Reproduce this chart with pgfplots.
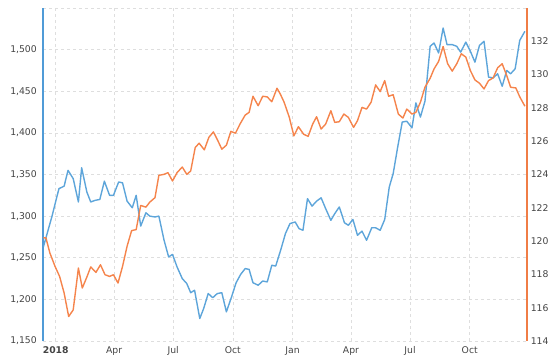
\documentclass[border=0pt]{standalone}
\usepackage{pgfplots}
\pgfplotsset{compat=1.18}
\usepackage{fontspec}
\setmainfont{DejaVu Sans}
\definecolor{goldblue}{RGB}{93,165,218}
\definecolor{axblue}{RGB}{80,155,215}
\definecolor{lineor}{RGB}{245,132,76}
\definecolor{axor}{RGB}{240,125,70}
\definecolor{txt}{RGB}{68,68,68}
\definecolor{gridc}{RGB}{222,222,222}

\pgfplotstableread{
x y
-19 1263
-15 1274
-6 1299
5 1333
13 1336
19 1355
27 1345
35 1317
40 1358
48 1329
54 1317
61 1319
68 1320
75 1342
83 1325
89 1325
97 1341
103 1340
110 1318
118 1310
124 1325
131 1288
139 1304
145 1300
153 1299
159 1300
167 1271
174 1251
180 1254
187 1239
195 1225
202 1219
208 1208
214 1211
222 1177
228 1189
235 1207
242 1202
249 1207
256 1208
263 1185
271 1203
278 1220
285 1230
292 1237
298 1236
304 1220
312 1217
319 1222
326 1221
333 1241
339 1240
347 1260
354 1279
361 1291
369 1293
375 1285
381 1283
388 1321
395 1312
402 1318
409 1322
416 1309
424 1295
430 1303
437 1311
445 1292
451 1289
458 1296
465 1277
472 1282
479 1271
487 1286
493 1286
500 1283
507 1296
514 1335
520 1351
527 1383
534 1413
541 1414
549 1406
555 1436
562 1419
569 1438
577 1504
583 1508
590 1496
597 1526
603 1506
611 1506
618 1504
624 1497
632 1509
639 1498
646 1485
653 1505
660 1510
667 1467
674 1466
681 1471
688 1456
695 1475
701 1471
708 1477
715 1511
723 1522
}\gold

\pgfplotstableread{
x y
-19 120.19
-15 120.19
-9 119.29
-1 118.48
6 117.88
13 116.88
20 115.47
27 115.87
35 118.38
41 117.18
48 117.84
54 118.45
62 118.12
69 118.58
76 117.98
83 117.88
89 117.98
96 117.48
103 118.48
110 119.69
117 120.63
124 120.69
131 122.14
139 122.04
145 122.34
153 122.61
159 123.95
167 124.01
173 124.11
180 123.61
187 124.11
195 124.45
202 124.01
208 124.21
215 125.62
221 125.88
229 125.48
236 126.23
243 126.56
250 126.02
256 125.52
263 125.76
270 126.59
277 126.48
284 127.03
292 127.57
298 127.73
304 128.70
312 128.13
319 128.70
326 128.66
333 128.37
341 129.18
346 128.84
352 128.34
360 127.43
367 126.32
374 126.87
382 126.42
389 126.29
396 127.03
402 127.47
409 126.73
416 127.03
424 127.83
430 127.13
437 127.17
444 127.63
451 127.43
459 126.83
465 127.23
472 128.03
479 127.93
486 128.34
493 129.38
500 128.98
507 129.64
513 128.70
520 128.79
528 127.63
535 127.39
541 127.93
549 127.63
555 127.73
562 128.34
569 129.24
577 129.78
583 130.34
590 130.79
597 131.69
604 130.65
611 130.21
618 130.65
625 131.25
632 131.05
639 130.24
646 129.68
653 129.48
660 129.14
667 129.64
674 129.80
681 130.41
688 130.65
695 129.94
701 129.24
709 129.20
715 128.67
723 128.10
}\other

\begin{document}
\begin{tikzpicture}
\useasboundingbox (-43.3bp,-19bp) rectangle (516.7bp,341bp);
\pgfplotsset{
  every axis/.append style={
    scale only axis, width=484bp, height=333bp,
    at={(0,0)}, anchor=south west,
    xmin=-19.1, xmax=726.7,
    major tick length=0,
    tick label style={font=\fontsize{9.3}{11}\selectfont, text=txt},
    /pgf/number format/assume math mode=true,
  }
}
\begin{axis}[
  ymin=1150, ymax=1550,
  axis y line*=left, axis x line*=bottom,
  x axis line style={draw=none},
  y axis line style={draw=axblue, line width=2bp, -},
  xtick={0,90,181,273,365,455,546,638},
  xticklabels={\textbf{2018},Apr,Jul,Oct,Jan,Apr,Jul,Oct},
  ytick={1150,1200,...,1550},
  yticklabels={{1,150},{1,200},{1,250},{1,300},{1,350},{1,400},{1,450},{1,500},{}},
  xmajorgrids, ymajorgrids,
  grid style={draw=gridc, dash pattern=on 3bp off 3bp, line width=0.7bp},
  yticklabel style={xshift=-3bp},
  xticklabel style={yshift=-2bp},
]
\addplot[goldblue, line width=1.4bp, line join=round] table[x=x,y=y] {\gold};
\end{axis}
\begin{axis}[
  ymin=114, ymax=134,
  axis y line*=right, axis x line=none,
  y axis line style={draw=axor, line width=2bp, -},
  ytick={114,116,...,132},
  yticklabel style={xshift=0bp},
]
\addplot[lineor, line width=1.4bp, line join=round] table[x=x,y=y] {\other};
\end{axis}
\end{tikzpicture}
\end{document}
